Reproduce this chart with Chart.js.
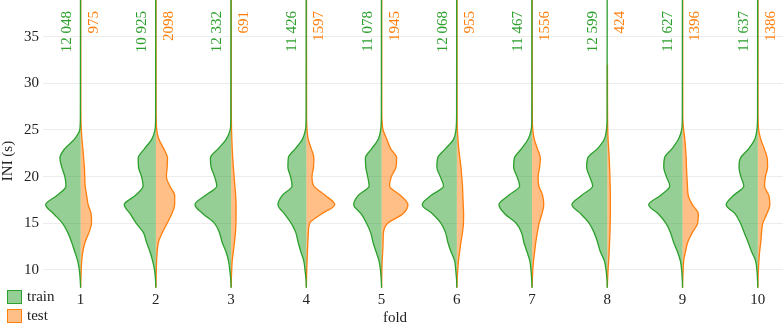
<!DOCTYPE html>
<html lang="en">
<head>
  <meta charset="UTF-8">
  <title>INI per fold - train / test</title>
  <script src="https://cdn.jsdelivr.net/npm/chart.js@4.4.0/dist/chart.umd.min.js"></script>
  <style>
    html, body { margin: 0; padding: 0; background: #fff; }
    canvas { display: block; }
  </style>
</head>
<body>
  <canvas id="violinChart" width="783" height="328"></canvas>
  <script>
    // folds and sample counts (labels at the top of each violin)
    const folds = [1, 2, 3, 4, 5, 6, 7, 8, 9, 10];
    const trainCounts = [12048, 10925, 12332, 11426, 11078, 12068, 11467, 12599, 11627, 11637];
    const testCounts = [975, 2098, 691, 1597, 1945, 955, 1556, 424, 1396, 1386];

    // INI levels (s) at which the half widths were read
    const iniLevels = [8.1, 9, 10, 11, 12, 13, 14, 15, 16, 17, 18, 19, 20, 21, 22, 23, 24, 25, 26, 27];

    // half width of each violin side (in fold units), one row per fold
    const trainHalfWidth = [
      [0, 0.006, 0.017, 0.04, 0.08, 0.12, 0.17, 0.24, 0.355, 0.465, 0.31, 0.195, 0.21, 0.25, 0.275, 0.21, 0.084, 0.012, 0.004, 0.003],
      [0, 0.005, 0.018, 0.044, 0.08, 0.125, 0.165, 0.26, 0.34, 0.42, 0.27, 0.17, 0.19, 0.23, 0.235, 0.15, 0.055, 0.012, 0.004, 0.003],
      [0, 0.005, 0.018, 0.035, 0.07, 0.12, 0.155, 0.22, 0.37, 0.48, 0.34, 0.19, 0.22, 0.265, 0.275, 0.17, 0.066, 0.012, 0.004, 0.003],
      [0, 0.005, 0.018, 0.035, 0.075, 0.11, 0.14, 0.2, 0.29, 0.377, 0.32, 0.19, 0.21, 0.245, 0.24, 0.145, 0.053, 0.012, 0.004, 0.003],
      [0, 0.005, 0.015, 0.035, 0.075, 0.115, 0.145, 0.2, 0.27, 0.37, 0.31, 0.165, 0.185, 0.21, 0.215, 0.13, 0.044, 0.012, 0.004, 0.003],
      [0, 0.004, 0.015, 0.03, 0.08, 0.12, 0.15, 0.21, 0.32, 0.46, 0.34, 0.177, 0.22, 0.265, 0.255, 0.15, 0.044, 0.012, 0.004, 0.003],
      [0, 0.005, 0.015, 0.03, 0.07, 0.11, 0.14, 0.21, 0.36, 0.44, 0.31, 0.165, 0.2, 0.245, 0.235, 0.14, 0.053, 0.012, 0.004, 0.003],
      [0, 0.005, 0.017, 0.04, 0.095, 0.13, 0.175, 0.24, 0.35, 0.47, 0.34, 0.195, 0.235, 0.275, 0.26, 0.13, 0.04, 0.012, 0.004, 0.003],
      [0, 0.004, 0.012, 0.03, 0.07, 0.12, 0.16, 0.22, 0.32, 0.45, 0.29, 0.17, 0.215, 0.25, 0.24, 0.14, 0.055, 0.012, 0.004, 0.003],
      [0, 0.004, 0.012, 0.03, 0.085, 0.13, 0.18, 0.23, 0.3, 0.42, 0.32, 0.186, 0.225, 0.25, 0.23, 0.12, 0.04, 0.012, 0.004, 0.003]
    ];
    const testHalfWidth = [
      [0, 0.004, 0.008, 0.015, 0.03, 0.06, 0.11, 0.145, 0.14, 0.1, 0.08, 0.06, 0.055, 0.05, 0.04, 0.03, 0.018, 0.01, 0.005, 0.003],
      [0, 0.003, 0.006, 0.01, 0.018, 0.035, 0.085, 0.15, 0.21, 0.25, 0.25, 0.185, 0.14, 0.15, 0.155, 0.105, 0.04, 0.012, 0.005, 0.003],
      [0, 0.003, 0.008, 0.015, 0.03, 0.045, 0.058, 0.064, 0.066, 0.066, 0.06, 0.05, 0.04, 0.03, 0.022, 0.015, 0.01, 0.006, 0.004, 0.003],
      [0, 0.002, 0.005, 0.01, 0.015, 0.02, 0.027, 0.044, 0.2, 0.377, 0.25, 0.1, 0.075, 0.095, 0.1, 0.065, 0.025, 0.01, 0.004, 0.003],
      [0, 0.002, 0.004, 0.008, 0.015, 0.02, 0.025, 0.08, 0.28, 0.35, 0.25, 0.105, 0.13, 0.19, 0.2, 0.12, 0.07, 0.02, 0.006, 0.003],
      [0, 0.005, 0.012, 0.022, 0.038, 0.055, 0.075, 0.088, 0.09, 0.085, 0.08, 0.075, 0.065, 0.055, 0.04, 0.025, 0.015, 0.008, 0.004, 0.003],
      [0, 0.004, 0.01, 0.02, 0.035, 0.05, 0.07, 0.093, 0.13, 0.155, 0.14, 0.09, 0.08, 0.1, 0.11, 0.07, 0.03, 0.01, 0.004, 0.003],
      [0, 0.004, 0.01, 0.018, 0.025, 0.03, 0.035, 0.038, 0.04, 0.04, 0.04, 0.038, 0.035, 0.03, 0.025, 0.018, 0.01, 0.006, 0.004, 0.003],
      [0, 0.003, 0.008, 0.015, 0.04, 0.07, 0.13, 0.2, 0.21, 0.13, 0.075, 0.065, 0.058, 0.052, 0.048, 0.04, 0.03, 0.015, 0.005, 0.003],
      [0, 0.003, 0.008, 0.015, 0.025, 0.04, 0.05, 0.066, 0.12, 0.16, 0.146, 0.09, 0.1, 0.13, 0.125, 0.085, 0.04, 0.012, 0.005, 0.003]
    ];
    // highest INI value reached by each thin tail
    const trainTop = [39, 39, 39, 39, 39, 39, 39, 39, 39, 39];
    const testTop = [39, 39, 39, 39, 39, 39, 39, 32, 39, 39];

    const yTicks = [10, 15, 20, 25, 30, 35];

    const GREEN = '#2ca02c', GREEN_FILL = 'rgba(44,160,44,0.5)';
    const ORANGE = '#ff7f0e', ORANGE_FILL = 'rgba(255,127,14,0.5)';
    const SERIF = '"Liberation Serif", "Times New Roman", serif';

    // one side of a split violin: side -1 = left (train), +1 = right (test)
    function halfViolin(fold, widths, top, side, color, fill) {
      const pts = iniLevels.map((v, k) => ({ x: fold + side * widths[k], y: v }));
      pts.push({ x: fold + side * 0.002, y: top });
      return {
        data: pts,
        borderColor: color,
        backgroundColor: fill,
        borderWidth: 1.3,
        pointRadius: 0,
        pointHoverRadius: 0,
        cubicInterpolationMode: 'monotone',
        fill: { value: fold }
      };
    }

    const datasets = [];
    folds.forEach((f, i) => {
      datasets.push(halfViolin(f, trainHalfWidth[i], trainTop[i], -1, GREEN, GREEN_FILL));
      datasets.push(halfViolin(f, testHalfWidth[i], testTop[i], 1, ORANGE, ORANGE_FILL));
    });

    // thousands separated by a space only from 5 digits on (12 048 but 2098)
    function spaced(n) {
      return n >= 10000 ? String(n).replace(/\B(?=(\d{3})+(?!\d))/g, ' ') : String(n);
    }

    // counts, legend and axis titles
    const annotate = {
      id: 'annotate',
      afterDraw(chart) {
        const ctx = chart.ctx;
        const xs = chart.scales.x;
        ctx.save();
        ctx.font = '15px ' + SERIF;
        ctx.textAlign = 'right';
        ctx.textBaseline = 'middle';
        folds.forEach((f, i) => {
          const px = xs.getPixelForValue(f);
          [[trainCounts[i], -14, GREEN], [testCounts[i], 13, ORANGE]].forEach(([n, dx, c]) => {
            ctx.save();
            ctx.translate(px + dx, 11);
            ctx.rotate(-Math.PI / 2);
            ctx.fillStyle = c;
            ctx.fillText(spaced(n), 0, 0);
            ctx.restore();
          });
        });

        // y title
        ctx.save();
        ctx.translate(8, 161);
        ctx.rotate(-Math.PI / 2);
        ctx.textAlign = 'center';
        ctx.fillStyle = '#222';
        ctx.fillText('INI (s)', 0, 0);
        ctx.restore();

        // x title
        ctx.textAlign = 'center';
        ctx.fillStyle = '#222';
        ctx.fillText('fold', 395, 318);

        // legend
        const items = [['train', GREEN, GREEN_FILL, 290], ['test', ORANGE, ORANGE_FILL, 309]];
        ctx.textAlign = 'left';
        items.forEach(([label, c, fc, y]) => {
          ctx.fillStyle = fc;
          ctx.fillRect(7.5, y + 0.5, 14, 13);
          ctx.strokeStyle = c;
          ctx.lineWidth = 1;
          ctx.strokeRect(7.5, y + 0.5, 14, 13);
          ctx.fillStyle = '#222';
          ctx.fillText(label, 27, y + 7);
        });
        ctx.restore();
      }
    };

    new Chart(document.getElementById('violinChart'), {
      type: 'line',
      data: { datasets },
      plugins: [annotate],
      options: {
        responsive: false,
        animation: false,
        indexAxis: 'y',
        layout: { padding: 0 },
        plugins: {
          legend: { display: false },
          tooltip: { enabled: false }
        },
        scales: {
          x: {
            type: 'linear',
            position: 'bottom',
            min: 0.5,
            max: 10.335,
            afterBuildTicks: s => { s.ticks = folds.map(v => ({ value: v })); },
            afterFit: s => { s.height = 39; s.paddingLeft = 0; s.paddingRight = 0; },
            grid: { display: false, drawTicks: false },
            border: { display: false },
            ticks: { color: '#222', font: { family: SERIF, size: 15 }, padding: 2 }
          },
          y: {
            type: 'linear',
            position: 'left',
            min: 7.96,
            max: 38.93,
            afterBuildTicks: s => { s.ticks = yTicks.map(v => ({ value: v })); },
            afterFit: s => { s.width = 43; s.paddingTop = 0; s.paddingBottom = 0; },
            grid: { color: '#ececec', lineWidth: 1, drawTicks: false },
            border: { display: false },
            ticks: { color: '#222', font: { family: SERIF, size: 15 }, padding: 4 }
          }
        }
      }
    });
  </script>
</body>
</html>
